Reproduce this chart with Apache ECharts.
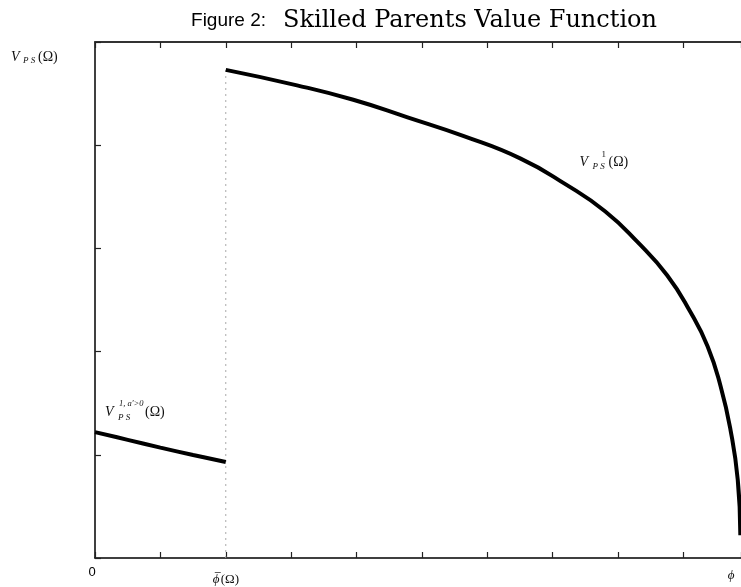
<!DOCTYPE html>
<html><head><meta charset="utf-8">
<script src="https://cdn.jsdelivr.net/npm/echarts@6/dist/echarts.min.js"></script>
<style>html,body{margin:0;padding:0;background:#fff}#c{width:741px;height:587px}</style>
</head><body><div id="c"></div>
<script>
// ---- data ----
const titleSans = 'Figure 2:';
const titleSerif = 'Skilled Parents Value Function';
// segment with a' > 0 (left of threshold)
const seg1X = [0, 0.5, 1.0, 1.5, 2.0];
const seg1Y = [1.22, 1.145, 1.07, 0.998, 0.93];
// V^1_{PS} segment (right of threshold)
const seg2X = [2.0, 3.09, 3.95, 4.78, 5.63, 6.51, 7.2, 7.8, 8.3, 8.75, 9.1, 9.37, 9.57, 9.72, 9.83, 9.87];
const seg2Y = [4.73, 4.58, 4.44, 4.27, 4.09, 3.87, 3.62, 3.36, 3.06, 2.74, 2.39, 2.05, 1.66, 1.24, 0.76, 0.22];
const thresholdX = 2.0;
const xTickLabels = ['0', 'ϕ', '(Ω)', 'ϕ'];
const xTickValues = [0, 2, 9.73];

// ---- chart ----
const chart = echarts.init(document.getElementById('c'), null, {renderer: 'canvas'});
const pair = (xs, ys) => xs.map((x, i) => [x, ys[i]]);
const serif = 'Liberation Serif';
const tickStyle = {show: true, inside: true, length: 6, lineStyle: {color: '#222', width: 1.2}};
const xAxisBase = {type: 'value', min: 0, max: 9.88, interval: 1, gridIndex: 0,
  axisLabel: {show: false}, splitLine: {show: false}, axisTick: tickStyle};

chart.setOption({
  animation: false,
  backgroundColor: '#fff',
  title: {
    text: '{a|' + titleSans + '}{b|' + titleSerif + '}',
    left: 419, top: 4, textAlign: 'center',
    textStyle: {fontWeight: 'normal', rich: {
      a: {fontFamily: 'Liberation Sans', fontSize: 19, fontWeight: 'normal', color: '#000', padding: [0, 17, 0, 0]},
      b: {fontFamily: 'DejaVu Serif', fontSize: 24, fontWeight: 'normal', color: '#000'}
    }}
  },
  grid: {left: 95, right: 0, top: 42, bottom: 29, containLabel: false},
  xAxis: [
    Object.assign({}, xAxisBase, {position: 'bottom',
      axisLine: {show: true, onZero: false, lineStyle: {color: '#000', width: 1.5}}}),
    Object.assign({}, xAxisBase, {position: 'top',
      axisLine: {show: true, onZero: false, lineStyle: {color: '#333', width: 2}}})
  ],
  yAxis: [{type: 'value', min: 0, max: 5, interval: 1,
    axisLine: {show: true, onZero: false, lineStyle: {color: '#000', width: 1.5}},
    axisTick: tickStyle, axisLabel: {show: false}, splitLine: {show: false}}],
  series: [
    {type: 'line', data: [[thresholdX, 0], [thresholdX, seg2Y[0]]], showSymbol: false, silent: true,
      lineStyle: {color: '#aaa', width: 1, type: [2, 4]}, z: 1},
    {type: 'line', data: pair(seg1X, seg1Y), showSymbol: false,
      lineStyle: {color: '#000', width: 4}, smooth: 0.4, z: 3},
    {type: 'line', data: pair(seg2X, seg2Y), showSymbol: false,
      lineStyle: {color: '#000', width: 4}, smooth: 0.5, z: 3}
  ]
});

// ---- annotations placed via the chart's own scale ----
const px = (x, y) => chart.convertToPixel({gridIndex: 0}, [x, y]);
function txt(x, y, text, size, italic, family, fill, align) {
  return {type: 'text', x: x, y: y, z: 10, style: {text: text, fontSize: size,
    fontFamily: family || serif, fontStyle: italic ? 'italic' : 'normal',
    fill: fill || '#111', align: align || 'left', verticalAlign: 'middle'}};
}
const g = [];
// y-axis name V_{PS}(Ω)
g.push(txt(11, 57, 'V', 14, true), txt(23, 61, 'P S', 9, true), txt(38, 57, '(Ω)', 14, false));
// V^1_{PS}(Ω) label anchored in data space
const a = px(7.41, 3.835);
g.push(txt(a[0], a[1], 'V', 14, true), txt(a[0] + 22, a[1] - 8, '1', 9, false),
  txt(a[0] + 13, a[1] + 4, 'P S', 9, true), txt(a[0] + 29, a[1], '(Ω)', 14, false));
// V^{1,a'>0}_{PS}(Ω) label
const b = px(0.153, 1.409);
g.push(txt(b[0], b[1], 'V', 14, true), txt(b[0] + 14, b[1] - 9, '1, a′>0', 8.5, true),
  txt(b[0] + 13, b[1] + 5, 'P S', 9, true), txt(b[0] + 40, b[1], '(Ω)', 14, false));
// x tick labels
const t0 = px(xTickValues[0], 0), t1 = px(xTickValues[1], 0), t2 = px(xTickValues[2], 0);
g.push(txt(t0[0] - 3, t0[1] + 14, xTickLabels[0], 13, false, 'Liberation Sans', '#000', 'center'));
g.push(txt(t1[0] - 13, t1[1] + 22, xTickLabels[1], 13, true, serif, '#111', 'left'));
g.push({type: 'line', z: 10, shape: {x1: t1[0] - 11, y1: t1[1] + 14.5, x2: t1[0] - 5, y2: t1[1] + 14.5},
  style: {stroke: '#333', lineWidth: 0.8}});
g.push(txt(t1[0] - 5, t1[1] + 22, xTickLabels[2], 13, false, serif, '#111', 'left'));
g.push(txt(t2[0], t2[1] + 18, xTickLabels[3], 13, true, serif, '#111', 'center'));
chart.setOption({graphic: g});
</script>
</body></html>
